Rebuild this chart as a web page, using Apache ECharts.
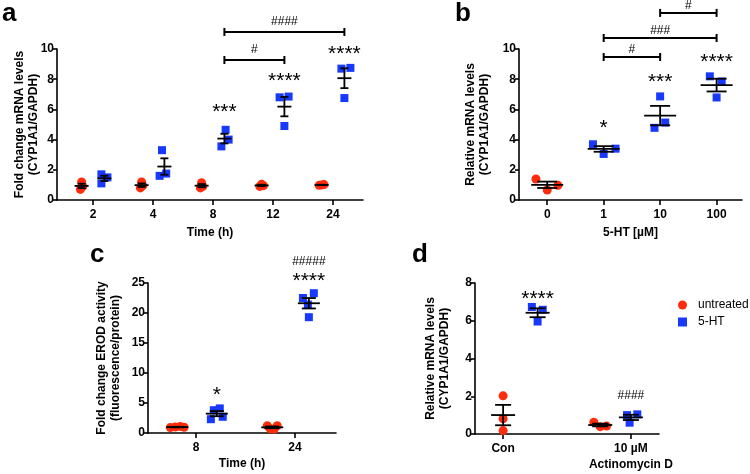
<!DOCTYPE html>
<html>
<head>
<meta charset="utf-8">
<script src="https://cdn.jsdelivr.net/npm/echarts@6/dist/echarts.min.js"></script>
<style>
  html, body { margin: 0; padding: 0; background: #fff; }
  #main { width: 750px; height: 474px; }
</style>
</head>
<body>
<div id="main"></div>
<script>
// ---- data ----
// a: CYP1A1 mRNA time course
const timeTicks = ['2', '4', '8', '12', '24'];
const mrnaUntreated = [[0.7, 0.9, 1.2], [0.8, 0.95, 1.2], [0.8, 0.9, 1.15], [0.9, 0.95, 1.05], [0.97, 1.0, 1.02]];
const mrnaHT = [[1.1, 1.5, 1.7], [1.6, 1.75, 3.3], [3.55, 4.0, 4.65], [4.9, 6.8, 6.85], [6.75, 8.7, 8.75]];
const starsA = [['***', 2, 6.15], ['****', 3, 8.2], ['****', 4, 10.0]];
const hashA = [[2, 3, 9.27, '#'], [2, 4, 11.13, '####']];

// b: dose response
const doseTicks = ['0', '1', '10', '100'];
const doseUntreated = [[1.39, 0.66, 0.97]];
const doseHT = [[3.69, 3.05, 3.4], [4.78, 6.86, 5.13], [8.19, 6.79, 7.85]];
const starsB = [['*', 1, 5.1], ['***', 2, 8.15], ['****', 3, 9.47]];
const hashB = [[1, 2, 9.47, '#'], [1, 3, 10.73, '###'], [2, 3, 12.39, '#']];

// c: EROD activity
const erodTicks = ['8', '24'];
const erodUntreated = [[0.9, 1.0, 1.1, 0.95], [1.2, 0.7, 0.67, 1.2]];
const erodHT = [[2.3, 3.8, 4.1, 2.7], [22.5, 21.4, 19.3, 23.3]];
const starsC = [['*', 0, 7.2], ['****', 1, 26.1], ['#####', 1, 28.6]];

// d: actinomycin D
const actTicks = ['Con', '10 µM\nActinomycin D'];
const actUntreated = [[2.02, 0.81, 0.18], [0.62, 0.39, 0.42]];
const actHT = [[6.73, 6.58, 5.96], [1.0, 1.04, 0.6]];
const starsD = [['****', 0, 7.43], ['####', 1, 2.02]];

const FONT = '"Liberation Sans", Arial, sans-serif';
const RED = '#fc2c0c';
const BLUE = '#1838fc';

function meanSem(v) {
  const m = v.reduce((a, b) => a + b, 0) / v.length;
  const sd = Math.sqrt(v.reduce((a, b) => a + (b - m) * (b - m), 0) / (v.length - 1));
  return [m, sd / Math.sqrt(v.length)];
}

const panels = [
  {
    grid: { left: 57, top: 49, width: 306, height: 151 },
    xMin: -0.6, xMax: 4.5, yMax: 10, yStep: 2, ticks: timeTicks,
    xName: 'Time (h)', yName: 'Fold change mRNA levels\n(CYP1A1/GAPDH)', xGap: 27, yGap: 16,
    red: { vals: mrnaUntreated, groups: [0, 1, 2, 3, 4], off: -0.19, jit: [[-0.02, 0.02, 0], [-0.02, 0.02, 0], [-0.02, 0.02, 0], [-0.03, 0.03, 0], [-0.04, 0, 0.04]] },
    blue: { vals: mrnaHT, groups: [0, 1, 2, 3, 4], off: 0.19, jit: [[-0.05, 0.05, -0.05], [-0.08, 0.03, -0.04], [-0.05, 0.07, 0.02], [0, -0.08, 0.07], [0, -0.05, 0.1]] },
    meanHalf: 7, capHalf: 4, stars: starsA, hash: hashA, hashGap: 10
  },
  {
    grid: { left: 519, top: 49, width: 223, height: 151 },
    xMin: -0.5, xMax: 3.45, yMax: 10, yStep: 2, ticks: doseTicks,
    xName: '5-HT [µM]', yName: 'Relative mRNA levels\n(CYP1A1/GAPDH)', xGap: 27, yGap: 27,
    red: { vals: doseUntreated, groups: [0], off: 0, jit: [[-0.2, 0, 0.19]] },
    blue: { vals: doseHT, groups: [1, 2, 3], off: 0, jit: [[-0.19, 0, 0.21], [-0.1, 0, 0.09], [-0.12, 0, 0.09]] },
    meanHalf: 16, capHalf: 10, stars: starsB, hash: hashB, hashGap: 7
  },
  {
    grid: { left: 148, top: 283, width: 188, height: 150 },
    xMin: -0.485, xMax: 1.414, yMax: 25, yStep: 5, ticks: erodTicks,
    xName: 'Time (h)', yName: 'Fold change EROD activity\n(fluorescence/protein)', xGap: 25, yGap: 25,
    red: { vals: erodUntreated, groups: [0, 1], off: [-0.19, -0.23], jit: [[-0.07, -0.02, 0.03, 0.07], [-0.05, -0.02, 0.02, 0.05]] },
    blue: { vals: erodHT, groups: [0, 1], off: [0.21, 0.14], jit: [[-0.06, -0.03, 0.03, 0.06], [-0.06, -0.01, 0, 0.05]] },
    meanHalf: 11, capHalf: 7, stars: starsC, hash: [], hashGap: 7
  },
  {
    grid: { left: 475, top: 283, width: 184, height: 151 },
    xMin: -0.22, xMax: 1.22, yMax: 8, yStep: 2, ticks: actTicks,
    xName: '', yName: 'Relative mRNA levels\n(CYP1A1/GAPDH)', xGap: 28, yGap: 23,
    red: { vals: actUntreated, groups: [0, 1], off: [0, -0.24], jit: [[0, 0, 0], [-0.05, 0, 0.05]] },
    blue: { vals: actHT, groups: [0, 1], off: [0.27, 0], jit: [[-0.045, 0.04, 0], [-0.03, 0.05, -0.01]] },
    meanHalf: 12, capHalf: 8, stars: starsD, hash: [], hashGap: 7
  }
];

function offAt(off, k) { return Array.isArray(off) ? off[k] : off; }

const grids = [], xAxes = [], yAxes = [], series = [];
const txt = { color: '#000', fontFamily: FONT, fontWeight: 'bold', fontSize: 12 };
const blackLine = { color: '#000', width: 1.6 };

panels.forEach((p, i) => {
  const tickIdx = p.ticks.map((_, k) => k);
  grids.push(p.grid);
  xAxes.push({
    type: 'value', gridIndex: i, min: p.xMin, max: p.xMax,
    splitLine: { show: false },
    axisLine: { onZero: false, lineStyle: blackLine },
    axisTick: { show: true, length: 5, customValues: tickIdx, lineStyle: blackLine },
    axisLabel: Object.assign({ customValues: tickIdx, formatter: v => p.ticks[Math.round(v)], margin: 7, lineHeight: 16 }, txt),
    name: p.xName, nameLocation: 'middle', nameGap: p.xGap, nameMoveOverlap: false, nameTextStyle: txt
  });
  yAxes.push({
    type: 'value', gridIndex: i, min: 0, max: p.yMax, interval: p.yStep,
    splitLine: { show: false },
    axisLine: { show: true, onZero: false, lineStyle: blackLine },
    axisTick: { show: true, length: 4, lineStyle: blackLine },
    axisLabel: Object.assign({ margin: 3 }, txt),
    name: p.yName, nameLocation: 'middle', nameGap: p.yGap, nameMoveOverlap: false,
    nameTextStyle: Object.assign({ lineHeight: 14 }, txt)
  });

  const errData = [];
  [['untreated', p.red, 'circle', 9, RED], ['5-HT', p.blue, 'rect', 8, BLUE]].forEach(([name, s, sym, size, color]) => {
    const pts = [];
    s.vals.forEach((grp, k) => {
      const x0 = s.groups[k] + offAt(s.off, k);
      grp.forEach((v, j) => pts.push([x0 + s.jit[k][j], v]));
      const ms = meanSem(grp);
      errData.push([x0, ms[0], ms[1]]);
    });
    series.push({
      type: 'scatter', name, xAxisIndex: i, yAxisIndex: i, symbol: sym, symbolSize: size,
      itemStyle: { color, opacity: 1 }, data: pts, z: 3, clip: false
    });
  });

  // mean +/- SEM
  series.push({
    type: 'custom', name: 'sem' + i, xAxisIndex: i, yAxisIndex: i, silent: true, z: 5,
    data: errData,
    renderItem: (params, api) => {
      const x = api.value(0), m = api.value(1), s = api.value(2);
      const c = api.coord([x, m]), hi = api.coord([x, m + s]), lo = api.coord([x, m - s]);
      const st = { stroke: '#000', lineWidth: 1.8 };
      const mw = p.meanHalf, cw = p.capHalf;
      return {
        type: 'group', children: [
          { type: 'line', shape: { x1: c[0] - mw, y1: c[1], x2: c[0] + mw, y2: c[1] }, style: st },
          { type: 'line', shape: { x1: c[0], y1: hi[1], x2: c[0], y2: lo[1] }, style: st },
          { type: 'line', shape: { x1: c[0] - cw, y1: hi[1], x2: c[0] + cw, y2: hi[1] }, style: st },
          { type: 'line', shape: { x1: c[0] - cw, y1: lo[1], x2: c[0] + cw, y2: lo[1] }, style: st }
        ]
      };
    }
  });

  // significance marks, centred over the 5-HT group
  series.push({
    type: 'custom', name: 'stars' + i, xAxisIndex: i, yAxisIndex: i, silent: true, z: 6,
    data: p.stars.map(s => [s[1] + offAt(p.blue.off, p.blue.groups.indexOf(s[1])), s[2]]),
    renderItem: (params, api) => {
      const label = p.stars[params.dataIndex][0];
      const c = api.coord([api.value(0), api.value(1)]);
      const isStar = label.indexOf('*') >= 0;
      return {
        type: 'text', x: c[0], y: c[1] + (isStar ? 5 : 0),
        style: {
          text: label, fill: '#000', align: 'center', verticalAlign: 'middle',
          font: isStar ? '21px ' + FONT : '12px ' + FONT
        }
      };
    }
  });

  if (p.hash.length) {
    series.push({
      type: 'custom', name: 'hash' + i, xAxisIndex: i, yAxisIndex: i, silent: true, z: 6,
      data: p.hash.map(h => [h[0] + offAt(p.blue.off, 0), h[1] + offAt(p.blue.off, 0), h[2]]),
      renderItem: (params, api) => {
        const label = p.hash[params.dataIndex][3];
        const a = api.coord([api.value(0), api.value(2)]);
        const b = api.coord([api.value(1), api.value(2)]);
        const st = { stroke: '#000', lineWidth: 2 };
        return {
          type: 'group', children: [
            { type: 'line', shape: { x1: a[0], y1: a[1], x2: b[0], y2: b[1] }, style: st },
            { type: 'line', shape: { x1: a[0], y1: a[1] - 4, x2: a[0], y2: a[1] + 4 }, style: st },
            { type: 'line', shape: { x1: b[0], y1: b[1] - 4, x2: b[0], y2: b[1] + 4 }, style: st },
            {
              type: 'text', x: (a[0] + b[0]) / 2, y: a[1] - p.hashGap,
              style: { text: label, fill: '#000', align: 'center', verticalAlign: 'middle', font: '12px ' + FONT }
            }
          ]
        };
      }
    });
  }
});

const letters = [['a', 2, 16], ['b', 455, 16], ['c', 90, 257], ['d', 412, 257]];

const chart = echarts.init(document.getElementById('main'), null, { renderer: 'canvas' });
chart.setOption({
  animation: false,
  backgroundColor: '#fff',
  grid: grids,
  xAxis: xAxes,
  yAxis: yAxes,
  legend: {
    data: [{ name: 'untreated', icon: 'circle' }, { name: '5-HT', icon: 'rect' }],
    orient: 'vertical', left: 673, top: 294, itemWidth: 9, itemHeight: 9, itemGap: 5,
    selectedMode: false,
    textStyle: { color: '#000', fontSize: 12, fontFamily: FONT, padding: [0, 0, 0, 6] }
  },
  graphic: letters.map(([t, x, y]) => ({
    type: 'text', left: x, top: y - 15,
    style: { text: t, fill: '#000', font: 'bold 26px ' + FONT }
  })),
  series
});
</script>
</body>
</html>
